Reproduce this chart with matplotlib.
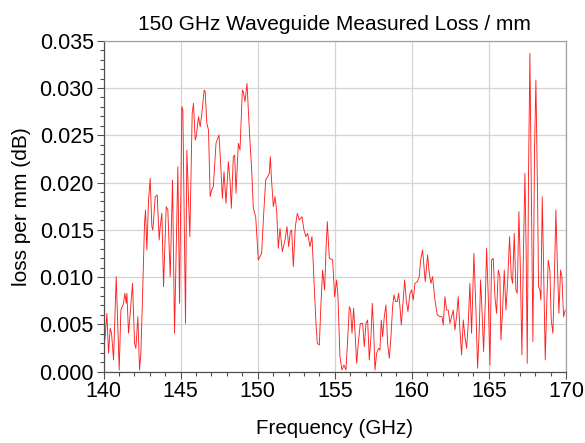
import matplotlib
matplotlib.use("Agg")
import matplotlib.pyplot as plt
from matplotlib.ticker import MultipleLocator, FormatStrFormatter

# frequency (GHz) and measured loss per mm (dB)
freq_ghz = [
    140.000, 140.086, 140.216, 140.324, 140.432, 140.519, 140.649, 140.821, 141.016, 141.124,
    141.297, 141.384, 141.470, 141.513, 141.621, 141.729, 141.881, 142.010, 142.097, 142.227,
    142.335, 142.421, 142.529, 142.659, 142.724, 142.810, 142.918, 143.026, 143.134, 143.199,
    143.351, 143.480, 143.610, 143.675, 143.783, 143.891, 144.064, 144.172, 144.324, 144.475,
    144.605, 144.821, 144.929, 145.080, 145.145, 145.318, 145.404, 145.599, 145.750, 145.837,
    145.945, 146.010, 146.161, 146.269, 146.377, 146.528, 146.593, 146.701, 146.809, 146.917,
    147.015, 147.123, 147.296, 147.491, 147.620, 147.707, 147.815, 147.945, 148.096, 148.204,
    148.290, 148.420, 148.507, 148.593, 148.744, 148.853, 149.004, 149.069, 149.177, 149.307,
    149.458, 149.609, 149.717, 149.869, 150.041, 150.150, 150.258, 150.366, 150.517, 150.647,
    150.755, 150.820, 150.885, 151.014, 151.122, 151.230, 151.338, 151.447, 151.598, 151.771,
    151.901, 152.009, 152.117, 152.203, 152.311, 152.441, 152.571, 152.700, 152.873, 153.003,
    153.133, 153.241, 153.392, 153.522, 153.673, 153.781, 153.868, 153.998, 154.105, 154.214,
    154.343, 154.430, 154.516, 154.646, 154.689, 154.862, 154.992, 155.121, 155.208, 155.337,
    155.467, 155.597, 155.727, 155.835, 155.943, 156.029, 156.116, 156.224, 156.332, 156.418,
    156.526, 156.656, 156.807, 156.916, 157.024, 157.132, 157.240, 157.348, 157.434, 157.521,
    157.607, 157.715, 157.845, 157.932, 158.018, 158.105, 158.213, 158.321, 158.429, 158.537,
    158.645, 158.753, 158.839, 158.947, 159.056, 159.142, 159.229, 159.315, 159.423, 159.531,
    159.639, 159.747, 159.877, 159.985, 160.093, 160.201, 160.353, 160.482, 160.569, 160.698,
    160.785, 160.871, 161.023, 161.131, 161.239, 161.347, 161.498, 161.650, 161.823, 161.952,
    162.039, 162.147, 162.255, 162.363, 162.471, 162.579, 162.687, 162.795, 162.903, 163.011,
    163.120, 163.228, 163.336, 163.444, 163.552, 163.660, 163.768, 163.876, 164.027, 164.157,
    164.265, 164.373, 164.460, 164.568, 164.654, 164.762, 164.849, 164.957, 165.065, 165.173,
    165.281, 165.389, 165.497, 165.606, 165.714, 165.778, 165.887, 165.995, 166.103, 166.211,
    166.340, 166.449, 166.535, 166.643, 166.751, 166.838, 166.946, 167.032, 167.140, 167.227,
    167.335, 167.421, 167.486, 167.573, 167.659, 167.767, 167.854, 167.962, 168.048, 168.156,
    168.221, 168.308, 168.373, 168.459, 168.546, 168.654, 168.740, 168.848, 168.956, 169.042,
    169.151, 169.259, 169.345, 169.432, 169.540, 169.648, 169.734, 169.843, 169.951,
]

loss_db = [
    0.00511, 0.00335, 0.00617, 0.00194, 0.00459, 0.00406, 0.00124, 0.01005, 0.00018, 0.00652,
    0.00723, 0.00829, 0.00723, 0.00829, 0.00406, 0.00617, 0.00934, 0.00300, 0.00247, 0.00582,
    0.00018, 0.00194, 0.00793, 0.01569, 0.01710, 0.01287, 0.01816, 0.02045, 0.01534, 0.01498,
    0.01851, 0.01869, 0.01393, 0.01534, 0.01675, 0.00899, 0.01745, 0.01710, 0.01005, 0.02027,
    0.00406, 0.02168, 0.00723, 0.02803, 0.02767, 0.00511, 0.02344, 0.01428, 0.02732, 0.02838,
    0.02450, 0.02485, 0.02697, 0.02591, 0.02732, 0.02979, 0.02961, 0.02626, 0.02556, 0.01851,
    0.01921, 0.01957, 0.02415, 0.02503, 0.02133, 0.01833, 0.02115, 0.01780, 0.02221, 0.02027,
    0.01728, 0.02274, 0.02291, 0.01886, 0.02415, 0.02344, 0.02979, 0.02961, 0.02855, 0.03049,
    0.02556, 0.02133, 0.01728, 0.01639, 0.01181, 0.01216, 0.01252, 0.01604, 0.02027, 0.02062,
    0.02098, 0.02274, 0.02062, 0.01745, 0.01851, 0.01710, 0.01305, 0.01516, 0.01269, 0.01393,
    0.01534, 0.01322, 0.01481, 0.01498, 0.01111, 0.01534, 0.01675, 0.01604, 0.01639, 0.01498,
    0.01428, 0.01463, 0.01322, 0.01428, 0.00899, 0.00511, 0.00300, 0.00282, 0.00723, 0.01075,
    0.00864, 0.01287, 0.01587, 0.01199, 0.01199, 0.01181, 0.00793, 0.00970, 0.00793, 0.00159,
    0.00018, 0.00071, 0.00018, 0.00335, 0.00688, 0.00652, 0.00406, 0.00670, 0.00370, 0.00088,
    0.00300, 0.00511, 0.00511, 0.00265, 0.00511, 0.00547, 0.00124, 0.00370, 0.00723, 0.00441,
    0.00018, 0.00194, 0.00247, 0.00229, 0.00547, 0.00370, 0.00582, 0.00705, 0.00300, 0.00141,
    0.00370, 0.00688, 0.00811, 0.00741, 0.00741, 0.00829, 0.00688, 0.00494, 0.00723, 0.00970,
    0.00758, 0.00635, 0.00829, 0.00864, 0.00758, 0.00934, 0.00952, 0.01005, 0.01181, 0.01287,
    0.01111, 0.00952, 0.01234, 0.01040, 0.00934, 0.01005, 0.00758, 0.00600, 0.00582, 0.00582,
    0.00494, 0.00793, 0.00652, 0.00652, 0.00511, 0.00582, 0.00652, 0.00441, 0.00582, 0.00793,
    0.00441, 0.00177, 0.00547, 0.00370, 0.00247, 0.00511, 0.00934, 0.00406, 0.01252, 0.00652,
    0.00036, 0.00441, 0.00970, 0.00582, 0.00212, 0.00723, 0.01305, 0.00793, 0.00071, 0.01181,
    0.01199, 0.00793, 0.00617, 0.01075, 0.01005, 0.00335, 0.00652, 0.01075, 0.00652, 0.00934,
    0.01428, 0.01005, 0.00934, 0.01463, 0.00864, 0.00829, 0.01692, 0.01146, 0.00177, 0.01146,
    0.02098, 0.01216, 0.00088, 0.02133, 0.03367, 0.01639, 0.00318, 0.02380, 0.03085, 0.01851,
    0.00899, 0.00864, 0.00758, 0.01851, 0.01111, 0.00124, 0.00652, 0.01181, 0.01075, 0.00547,
    0.00406, 0.01075, 0.01710, 0.01181, 0.00617, 0.01075, 0.01005, 0.00582, 0.00652,
]

title = "150 GHz Waveguide Measured Loss / mm"
x_label = "Frequency (GHz)"
y_label = "loss per mm (dB)"

plt.rcParams["font.family"] = ["Liberation Sans", "DejaVu Sans"]

fig = plt.figure(figsize=(5.85, 4.43), dpi=100)
ax = fig.add_axes([0.177, 0.161, 0.7905, 0.747])

ax.plot(freq_ghz, loss_db, color="#ff2020", linewidth=0.65)

ax.set_xlim(140, 170)
ax.set_ylim(0, 0.035)
ax.xaxis.set_major_locator(MultipleLocator(5))
ax.xaxis.set_minor_locator(MultipleLocator(1))
ax.yaxis.set_major_locator(MultipleLocator(0.005))
ax.yaxis.set_minor_locator(MultipleLocator(0.001))
ax.yaxis.set_major_formatter(FormatStrFormatter("%.3f"))

ax.grid(True, which="major", color="#d4d4d4", linewidth=0.9)
ax.set_axisbelow(True)

for side in ("left", "bottom"):
    ax.spines[side].set_color("#505050")
    ax.spines[side].set_linewidth(0.9)
for side in ("top", "right"):
    ax.spines[side].set_color("#a0a0a0")
    ax.spines[side].set_linewidth(0.9)

ax.tick_params(which="major", direction="out", length=5, width=0.8,
               color="#505050", labelsize=15.5, pad=2)
ax.tick_params(which="minor", direction="out", length=3, width=0.8,
               color="#505050")
ax.tick_params(top=False, right=False, which="both")

ax.set_title(title, fontsize=15, pad=8)
ax.set_xlabel(x_label, fontsize=14.8, labelpad=12)
ax.set_ylabel(y_label, fontsize=15, labelpad=6)

fig.savefig("out.png", dpi=100)
plt.close(fig)
